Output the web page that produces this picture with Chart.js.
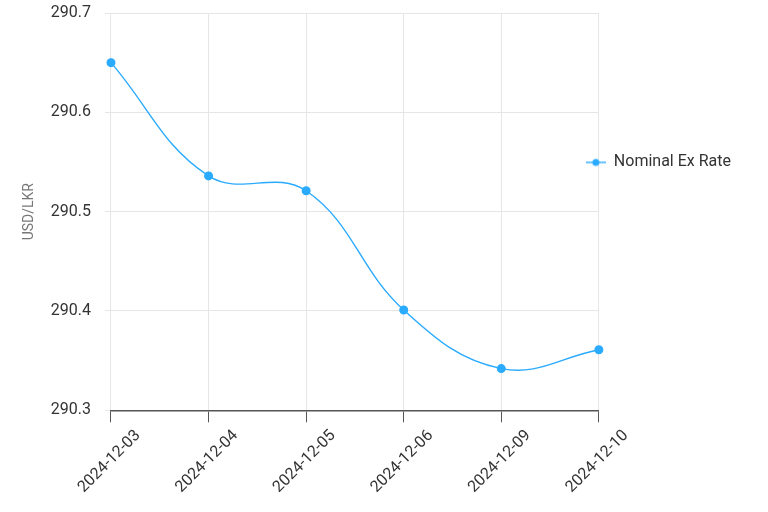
<!DOCTYPE html>
<html>
<head>
<meta charset="utf-8">
<script src="https://cdn.jsdelivr.net/npm/chart.js@4.4.1/dist/chart.umd.min.js"></script>
<style>
  html, body { margin: 0; padding: 0; background: #fff; }
  #wrap { width: 768px; height: 512px; }
</style>
</head>
<body>
<div id="wrap"><canvas id="grafico"></canvas></div>
<script>
const dates = ['2024-12-03', '2024-12-04', '2024-12-05', '2024-12-06', '2024-12-09', '2024-12-10'];
const rates = [290.65, 290.536, 290.521, 290.401, 290.342, 290.361];
const lineColor = '#2aabff';

// legend symbol: a short line with a dot in the middle
const legendIcon = document.createElement('canvas');
legendIcon.width = 20;
legendIcon.height = 10;
const ic = legendIcon.getContext('2d');
ic.strokeStyle = lineColor;
ic.lineWidth = 1.4;
ic.beginPath();
ic.moveTo(0, 5);
ic.lineTo(20, 5);
ic.stroke();
ic.fillStyle = lineColor;
ic.beginPath();
ic.arc(10, 5, 3.5, 0, Math.PI * 2);
ic.fill();

// the legend sits a bit over the plot's right edge in the original
const legendShift = {
    id: 'legendShift',
    afterLayout(chart) {
        const lg = chart.legend;
        lg.left -= 19;
        lg.right -= 19;
    }
};

Chart.defaults.font.family = 'Roboto, sans-serif';

new Chart(document.getElementById('grafico'), {
    type: 'line',
    data: {
        labels: dates,
        datasets: [{
            label: 'Nominal Ex Rate',
            data: rates,
            borderColor: lineColor,
            backgroundColor: lineColor,
            borderWidth: 1.4,
            pointRadius: 3.8,
            pointHoverRadius: 5,
            tension: 0.4
        }]
    },
    options: {
        responsive: true,
        maintainAspectRatio: false,
        animation: false,
        layout: { padding: { top: 13, right: 8, left: 12, bottom: 11 } },
        plugins: {
            legend: {
                position: 'right',
                align: 'start',
                title: { display: true, text: '', padding: { top: 121 } },
                labels: {
                    usePointStyle: true,
                    pointStyle: legendIcon,
                    pointStyleWidth: 20,
                    color: '#333',
                    font: { size: 16 },
                    padding: 6
                }
            },
            tooltip: { enabled: false }
        },
        scales: {
            x: {
                grid: { color: '#e6e6e6', tickColor: '#555', tickLength: 12 },
                border: { color: '#555', width: 1.5 },
                ticks: { color: '#333', font: { size: 16 }, maxRotation: 45, minRotation: 45, labelOffset: 27, padding: 4 }
            },
            y: {
                min: 290.3,
                max: 290.7,
                grid: { color: '#e6e6e6', tickLength: 6 },
                border: { display: false },
                ticks: { stepSize: 0.1, color: '#333', font: { size: 16 }, padding: 14, callback: v => v.toFixed(1) },
                title: { display: true, text: 'USD/LKR', color: '#777', font: { size: 14 }, padding: { top: 9, bottom: -1 } },
                afterFit(scale) {
                    // only half a label of room above the top tick
                    scale.paddingTop = 10;
                    scale.paddingBottom = 10;
                }
            }
        }
    },
    plugins: [legendShift]
});
</script>
</body>
</html>
